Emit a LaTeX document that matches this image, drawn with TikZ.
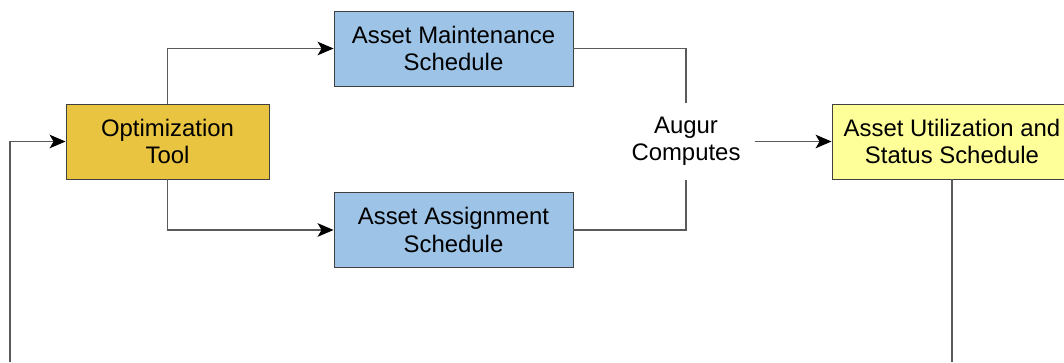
\documentclass[tikz,border=0pt]{standalone}
\usepackage{fontspec}
\setmainfont{Liberation Sans}
\usetikzlibrary{arrows.meta}
\definecolor{optgold}{HTML}{E8C440}
\definecolor{schedblue}{HTML}{9DC3E6}
\definecolor{utilyellow}{HTML}{FFFF99}
\definecolor{linegray}{HTML}{5A5A5A}
\tikzset{
	box/.style={draw=black!75, line width=0.6pt, align=center, inner sep=0pt, minimum height=1.875cm, font=\fontsize{17}{19.5}\selectfont},
	link/.style={draw=linegray, line width=0.9pt},
	arr/.style={link, -{Stealth[length=0.4cm, width=0.34cm, inset=0.1cm, black]}}
}

\begin{document}
\begin{tikzpicture}
			%%%%% START %%%%%
			
			\useasboundingbox (0, 0) rectangle (26.6, 9.05);
			
			\node[box, fill=optgold, minimum width=5.075cm] (opt) at (4.1875, 5.5125) {Optimization\\Tool};
			\node[box, fill=schedblue, minimum width=5.975cm] (maint) at (11.3375, 7.8375) {Asset Maintenance\\Schedule};
			\node[box, fill=schedblue, minimum width=5.975cm] (assign) at (11.3375, 3.3) {Asset Assignment\\Schedule};
			\node[align=center, inner sep=0pt, minimum width=3.45cm, minimum height=1.9cm, font=\fontsize{17}{19.5}\selectfont] (augur) at (17.15, 5.5125) {Augur\\Computes};
			\node[box, fill=utilyellow, minimum width=6cm] (util) at (23.8, 5.5125) {Asset Utilization and\\Status Schedule};
			
			\coordinate (fbin) at (0.25, 0);
			\coordinate (utilout) at (util.south |- fbin);
			
			\draw[arr] (opt.north) |- (maint.west);
			\draw[arr] (opt.south) |- (assign.west);
			\draw[link] (maint.east) -| (augur.north);
			\draw[link] (assign.east) -| (augur.south);
			\draw[arr] (augur.east) -- (util.west);
			\draw[link] (util.south) -- (utilout);
			\draw[arr] (fbin) |- (opt.west);
			
			%%%%% END %%%%%
\end{tikzpicture}
\end{document}
